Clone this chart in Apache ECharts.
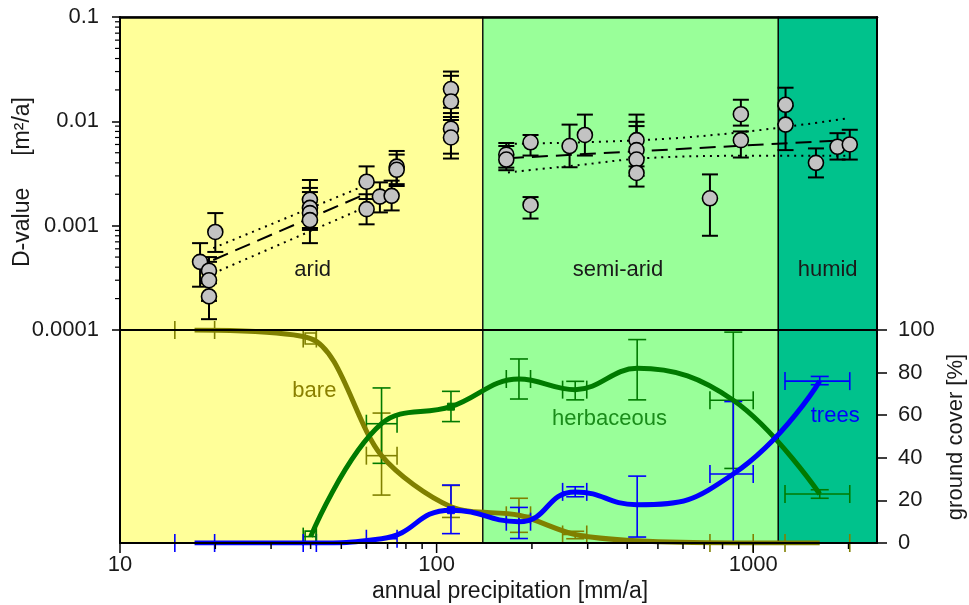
<!DOCTYPE html>
<html><head><meta charset="utf-8">
<script src="https://cdn.jsdelivr.net/npm/echarts@6/dist/echarts.min.js"></script>
<style>html,body{margin:0;padding:0;background:#fff}#c{width:969px;height:605px}</style>
</head><body><div id="c"></div>
<script>
// ---------------- data ----------------
const zoneNames = ['arid', 'semi-arid', 'humid'];
const zoneLow = [10, 140, 1200];
const zoneHigh = [140, 1200, 2460];
const zoneLabelX = [40.6, 374, 1718];
const zoneLabelY = [0.000376, 0.000376, 0.000376];

// D-value measurements: precipitation, D, lower and upper error
const dPrecip = [17.9, 19.1, 19.1, 19.1, 20.0, 39.8, 39.8, 39.8, 39.8, 60.1, 60.1, 66.2, 72.1, 74.8, 74.8,
  111, 111, 111, 111, 166, 166, 198, 198, 263, 294, 428, 428, 428, 428, 730, 914, 914, 1265, 1265, 1578, 1846, 2018];
const dValue = [0.00045, 0.00037, 0.00030, 0.00021, 0.00087, 0.00177, 0.00148, 0.00132, 0.00113, 0.00264, 0.00144, 0.0019, 0.00193, 0.00368, 0.00343,
  0.0204, 0.0155, 0.0085, 0.0070, 0.0048, 0.0043, 0.0063, 0.00158, 0.0058, 0.0074, 0.0066, 0.0053, 0.0043, 0.0032, 0.00183, 0.0117, 0.0066, 0.0144, 0.0093, 0.0040, 0.0057, 0.0060];
const dLow = [0.00026, 0.00028, 0.00019, 0.000127, 0.00056, 0.0011, 0.00095, 0.00091, 0.00068, 0.0018, 0.00103, 0.00134, 0.0014, 0.0025, 0.0024,
  0.0135, 0.0103, 0.0049, 0.0044, 0.0034, 0.0036, 0.0047, 0.00117, 0.00363, 0.0047, 0.0045, 0.0037, 0.0030, 0.00237, 0.00080, 0.0091, 0.0045, 0.0094, 0.0053, 0.0029, 0.0043, 0.0043];
const dHigh = [0.00068, 0.00050, 0.00045, 0.00030, 0.00132, 0.00274, 0.0023, 0.0021, 0.0018, 0.0037, 0.0020, 0.0026, 0.0027, 0.0052, 0.0048,
  0.030, 0.0273, 0.0120, 0.0110, 0.0062, 0.0058, 0.0074, 0.00188, 0.0093, 0.0116, 0.0116, 0.0099, 0.0090, 0.0045, 0.0031, 0.0161, 0.0080, 0.0210, 0.0140, 0.0055, 0.0077, 0.0083];

// regressions (fit and confidence band)
const aridFitX = [19.7, 58];
const aridFit = [0.000469, 0.00194];
const aridUpperX = [19.7, 60.1];
const aridUpper = [0.00061, 0.00246];
const aridLowerX = [19.7, 60.1];
const aridLower = [0.000349, 0.00152];
const humidFitX = [168, 2018];
const humidFit = [0.00443, 0.00664];
const humidUpperX = [168, 460, 953, 2018];
const humidUpper = [0.00608, 0.00664, 0.00798, 0.01074];
const humidLowerX = [168, 283, 460, 953, 1980];
const humidLower = [0.00323, 0.00382, 0.00444, 0.00467, 0.00467];

// ground cover [%]
const coverPrecip = [17.2, 40, 67, 111, 182, 274, 430, 865, 1622];
const precipLow  = [14.9, 37.9, 60, null, 166, 250, null, 730, 1260];
const precipHigh = [19.9, 41.7, 75, null, 198, 298, null, 1000, 2018];
const bare       = [100, 96, 41, 17, 13, 4, 1, 0, 0];
const bareLow    = [null, null, 22.5, 12, 5, 2, null, null, null];
const bareHigh   = [null, null, 61, 27, 21, 5.5, null, null, null];
const herbaceous = [null, 3, 56, 64, 77, 72, 82, 67, 23];
const herbLow    = [null, null, 37.4, 57, 67.6, 67.2, 67.2, 35, 21];
const herbHigh   = [null, null, 72.8, 71.2, 86.4, 75.9, 95.5, 99, 25];
const trees      = [0, 0, 2, 15.4, 10, 24, 18, 32.4, 76];
const treesLow   = [null, null, null, 4.4, 2.1, 21.7, 2.8, 0, 74.3];
const treesHigh  = [null, null, null, 27.2, 16.7, 26.4, 31.4, 66.4, 78.2];
const coverNames = ['bare', 'herbaceous', 'trees'];
const coverLabelX = [41.1, 351.6, 1815];
const coverLabelY = [71.6, 58.3, 59.7];
// points drawn with a marker: index -> marker kind
const bareMarks = { 1: 'open' };
const herbMarks = { 1: 'open', 3: 'filled' };
const treesMarks = { 3: 'filled' };

// axis ticks
const xMajorTicks = [10, 100, 1000];
const xMinorTicks = [20, 30, 40, 50, 60, 70, 80, 90, 200, 300, 400, 500, 600, 700, 800, 900, 2000];
const yTopMinorTicks = [0.0002, 0.0003, 0.0004, 0.0005, 0.0006, 0.0007, 0.0008, 0.0009,
  0.002, 0.003, 0.004, 0.005, 0.006, 0.007, 0.008, 0.009, 0.02, 0.03, 0.04, 0.05, 0.06, 0.07, 0.08, 0.09];

// ---------------- chart ----------------
const FONT = '"Liberation Sans", Arial, sans-serif';
const TXT = '#1a1a1a';
const X_MIN = 10, X_MAX = 2460;
const zoneColors = ['#ffff99', '#99ff99', '#00c28c'];
const coverColors = ['#808000', '#007a00', '#0000ff'];
const coverTextColors = ['#8a8000', '#1a8c1a', '#0000ff'];
const coverSmooth = [0.3, 0.4, 0.5];

function zip2(xs, ys) { return xs.map((x, i) => [x, ys[i]]); }

function zoneSeries(xi, yi, yBottom, yTop) {
  return {
    type: 'custom', xAxisIndex: xi, yAxisIndex: yi, z: 1, silent: true,
    data: zoneLow.map((l, i) => [l, zoneHigh[i], i]),
    renderItem: function (params, api) {
      const a = api.coord([api.value(0), yTop]);
      const b = api.coord([api.value(1), yBottom]);
      return { type: 'rect', shape: { x: a[0], y: a[1], width: b[0] - a[0], height: b[1] - a[1] },
        style: { fill: zoneColors[api.value(2)], stroke: '#000', lineWidth: 1.2 } };
    }
  };
}

function vErrSeries(xi, yi, rows, color, lw, cap, z) {
  return {
    type: 'custom', xAxisIndex: xi, yAxisIndex: yi, z: z, silent: true, data: rows,
    renderItem: function (params, api) {
      const x = api.value(0);
      const a = api.coord([x, api.value(1)]);
      const b = api.coord([x, api.value(2)]);
      const st = { stroke: color, lineWidth: lw };
      return { type: 'group', children: [
        { type: 'line', shape: { x1: a[0], y1: a[1], x2: b[0], y2: b[1] }, style: st },
        { type: 'line', shape: { x1: a[0] - cap, y1: a[1], x2: a[0] + cap, y2: a[1] }, style: st },
        { type: 'line', shape: { x1: b[0] - cap, y1: b[1], x2: b[0] + cap, y2: b[1] }, style: st }
      ] };
    }
  };
}
function hErrSeries(xi, yi, rows, color, lw, cap, z) {
  return {
    type: 'custom', xAxisIndex: xi, yAxisIndex: yi, z: z, silent: true, data: rows,
    renderItem: function (params, api) {
      const y = api.value(2);
      const a = api.coord([api.value(0), y]);
      const b = api.coord([api.value(1), y]);
      const st = { stroke: color, lineWidth: lw };
      return { type: 'group', children: [
        { type: 'line', shape: { x1: a[0], y1: a[1], x2: b[0], y2: b[1] }, style: st },
        { type: 'line', shape: { x1: a[0], y1: a[1] - cap, x2: a[0], y2: a[1] + cap }, style: st },
        { type: 'line', shape: { x1: b[0], y1: b[1] - cap, x2: b[0], y2: b[1] + cap }, style: st }
      ] };
    }
  };
}
function textSeries(xi, yi, xs, ys, texts, colors, z) {
  return {
    type: 'custom', xAxisIndex: xi, yAxisIndex: yi, z: z, silent: true,
    data: xs.map((x, i) => [x, ys[i], i]),
    renderItem: function (params, api) {
      const p = api.coord([api.value(0), api.value(1)]);
      const i = api.value(2);
      return { type: 'text', x: p[0], y: p[1],
        style: { text: texts[i], fill: colors[i], font: '22px ' + FONT, align: 'center', verticalAlign: 'middle' } };
    }
  };
}

const series = [];
// backgrounds
series.push(zoneSeries(0, 0, 0.0001, 0.1));
series.push(zoneSeries(2, 2, 0, 100));

// top panel error bars
series.push(vErrSeries(0, 0, dPrecip.map((x, i) => [x, dLow[i], dHigh[i]]), '#000', 2, 8, 3));

// regressions
const dash = [16, 8], dot = [2, 5];
function regLine(xs, ys, type, smooth) {
  return { type: 'line', xAxisIndex: 0, yAxisIndex: 0, z: 4, silent: true, data: zip2(xs, ys),
    showSymbol: false, symbol: 'none', smooth: smooth || false,
    lineStyle: { color: '#000', width: 2, type: type } };
}
series.push(regLine(aridFitX, aridFit, dash));
series.push(regLine(aridUpperX, aridUpper, dot));
series.push(regLine(aridLowerX, aridLower, dot));
series.push(regLine(humidFitX, humidFit, dash));
series.push(regLine(humidUpperX, humidUpper, dot, 0.4));
series.push(regLine(humidLowerX, humidLower, dot, 0.4));

// D-value points
series.push({ type: 'scatter', xAxisIndex: 0, yAxisIndex: 0, z: 6, silent: true,
  data: zip2(dPrecip, dValue), symbol: 'circle', symbolSize: 15,
  itemStyle: { color: '#c3c3c3', borderColor: '#000', borderWidth: 1.6, opacity: 1 } });

// zone labels
series.push(textSeries(0, 0, zoneLabelX, zoneLabelY, zoneNames, [TXT, TXT, TXT], 7));

// ground cover error bars + curves
const coverVals = [bare, herbaceous, trees];
const coverLo = [bareLow, herbLow, treesLow];
const coverHi = [bareHigh, herbHigh, treesHigh];
const coverMarks = [bareMarks, herbMarks, treesMarks];
coverVals.forEach((vals, k) => {
  const vRows = [], hRows = [];
  vals.forEach((v, i) => {
    if (v == null) return;
    if (coverLo[k][i] != null) vRows.push([coverPrecip[i], coverLo[k][i], coverHi[k][i]]);
    if (precipLow[i] != null) hRows.push([precipLow[i], precipHigh[i], v]);
  });
  series.push(vErrSeries(2, 2, vRows, coverColors[k], 1.6, 9, 3 + k));
  series.push(hErrSeries(2, 2, hRows, coverColors[k], 1.6, 9, 3 + k));
});
coverVals.forEach((vals, k) => {
  const data = coverPrecip.map((x, i) => {
    const m = coverMarks[k][i];
    if (!m) return { value: [x, vals[i]], symbol: 'none' };
    return m === 'open'
      ? { value: [x, vals[i]], symbol: 'rect', symbolSize: 11,
          itemStyle: { color: 'rgba(0,0,0,0)', borderColor: coverColors[k], borderWidth: 1.6 } }
      : { value: [x, vals[i]], symbol: 'rect', symbolSize: 7,
          itemStyle: { color: coverColors[k], borderColor: coverColors[k], borderWidth: 1 } };
  });
  series.push({ type: 'line', xAxisIndex: 2, yAxisIndex: 2, z: 6 + k, silent: true,
    data: data, smooth: coverSmooth[k], showSymbol: true, symbol: 'none',
    lineStyle: { color: coverColors[k], width: 5 } });
});
series.push(textSeries(2, 2, coverLabelX, coverLabelY, coverNames, coverTextColors, 10));

// ticks drawn through scales
series.push({ type: 'custom', xAxisIndex: 2, yAxisIndex: 2, z: 12, silent: true,
  data: xMajorTicks.map(v => [v, 0, 10]).concat(xMinorTicks.map(v => [v, 0, 6])),
  renderItem: function (params, api) {
    const p = api.coord([api.value(0), 0]);
    return { type: 'line', shape: { x1: p[0], y1: p[1], x2: p[0], y2: p[1] + api.value(2) },
      style: { stroke: '#000', lineWidth: 1.5 } };
  } });
series.push({ type: 'custom', xAxisIndex: 0, yAxisIndex: 0, z: 12, silent: true,
  data: yTopMinorTicks.map(v => [X_MIN, v]),
  renderItem: function (params, api) {
    const p = api.coord([X_MIN, api.value(1)]);
    return { type: 'line', shape: { x1: p[0] - 5, y1: p[1], x2: p[0], y2: p[1] },
      style: { stroke: '#000', lineWidth: 1.2 } };
  } });

const frameLine = { show: true, lineStyle: { color: '#000', width: 2 } };
const hidden = { show: false };
function isPow10(v) { const l = Math.log10(v); return Math.abs(l - Math.round(l)) < 1e-6; }

const option = {
  animation: false,
  backgroundColor: '#fff',
  textStyle: { fontFamily: FONT },
  grid: [
    { left: 120, right: 92, top: 17, height: 313 },
    { left: 120, right: 92, top: 330, height: 213 }
  ],
  xAxis: [
    { type: 'log', gridIndex: 0, position: 'top', min: X_MIN, max: X_MAX, z: 20,
      axisLine: { show: true, lineStyle: { color: '#000', width: 2.5 } }, axisTick: hidden, axisLabel: hidden, splitLine: hidden },
    { type: 'log', gridIndex: 0, position: 'bottom', min: X_MIN, max: X_MAX, z: 20,
      axisLine: frameLine, axisTick: hidden, axisLabel: hidden, splitLine: hidden },
    { type: 'log', gridIndex: 1, position: 'bottom', min: X_MIN, max: X_MAX, z: 20,
      axisLine: frameLine, axisTick: hidden, splitLine: hidden,
      axisLabel: { show: true, margin: 11, fontSize: 22, color: TXT, fontFamily: FONT,
        showMinLabel: true, showMaxLabel: true,
        formatter: v => isPow10(v) ? String(Math.round(v)) : '' } }
  ],
  yAxis: [
    { type: 'log', gridIndex: 0, position: 'left', min: 0.0001, max: 0.1, z: 20,
      axisLine: frameLine, splitLine: hidden,
      axisTick: { show: true, length: 8, inside: false, lineStyle: { color: '#000', width: 1.5 } },
      axisLabel: { show: true, margin: 21, fontSize: 22, color: TXT, fontFamily: FONT,
        formatter: v => isPow10(v) ? String(Number(v.toPrecision(1))) : '' } },
    { type: 'log', gridIndex: 0, position: 'right', min: 0.0001, max: 0.1, z: 20,
      axisLine: frameLine, axisTick: hidden, axisLabel: hidden, splitLine: hidden },
    { type: 'value', gridIndex: 1, position: 'right', min: 0, max: 100, interval: 20, z: 20,
      axisLine: frameLine, splitLine: hidden,
      axisTick: { show: true, length: 10, inside: false, lineStyle: { color: '#000', width: 1.5 } },
      axisLabel: { show: true, margin: 21, fontSize: 22, color: TXT, fontFamily: FONT } },
    { type: 'value', gridIndex: 1, position: 'left', min: 0, max: 100, interval: 20, z: 20,
      axisLine: frameLine, axisTick: hidden, axisLabel: hidden, splitLine: hidden }
  ],
  graphic: [
    { type: 'text', x: 510, y: 592, silent: true,
      style: { text: 'annual precipitation [mm/a]', font: '23px ' + FONT, fill: TXT, align: 'center', verticalAlign: 'middle' } },
    { type: 'text', x: 23, y: 182, rotation: Math.PI / 2, silent: true,
      style: { text: 'D-value     [m\u00B2/a]', font: '23px ' + FONT, fill: TXT, align: 'center', verticalAlign: 'middle' } },
    { type: 'text', x: 956, y: 437, rotation: Math.PI / 2, silent: true,
      style: { text: 'ground cover [%]', font: '22px ' + FONT, fill: TXT, align: 'center', verticalAlign: 'middle' } }
  ],
  series: series
};

const chart = echarts.init(document.getElementById('c'), null, { renderer: 'canvas' });
chart.setOption(option);
</script>
</body></html>
